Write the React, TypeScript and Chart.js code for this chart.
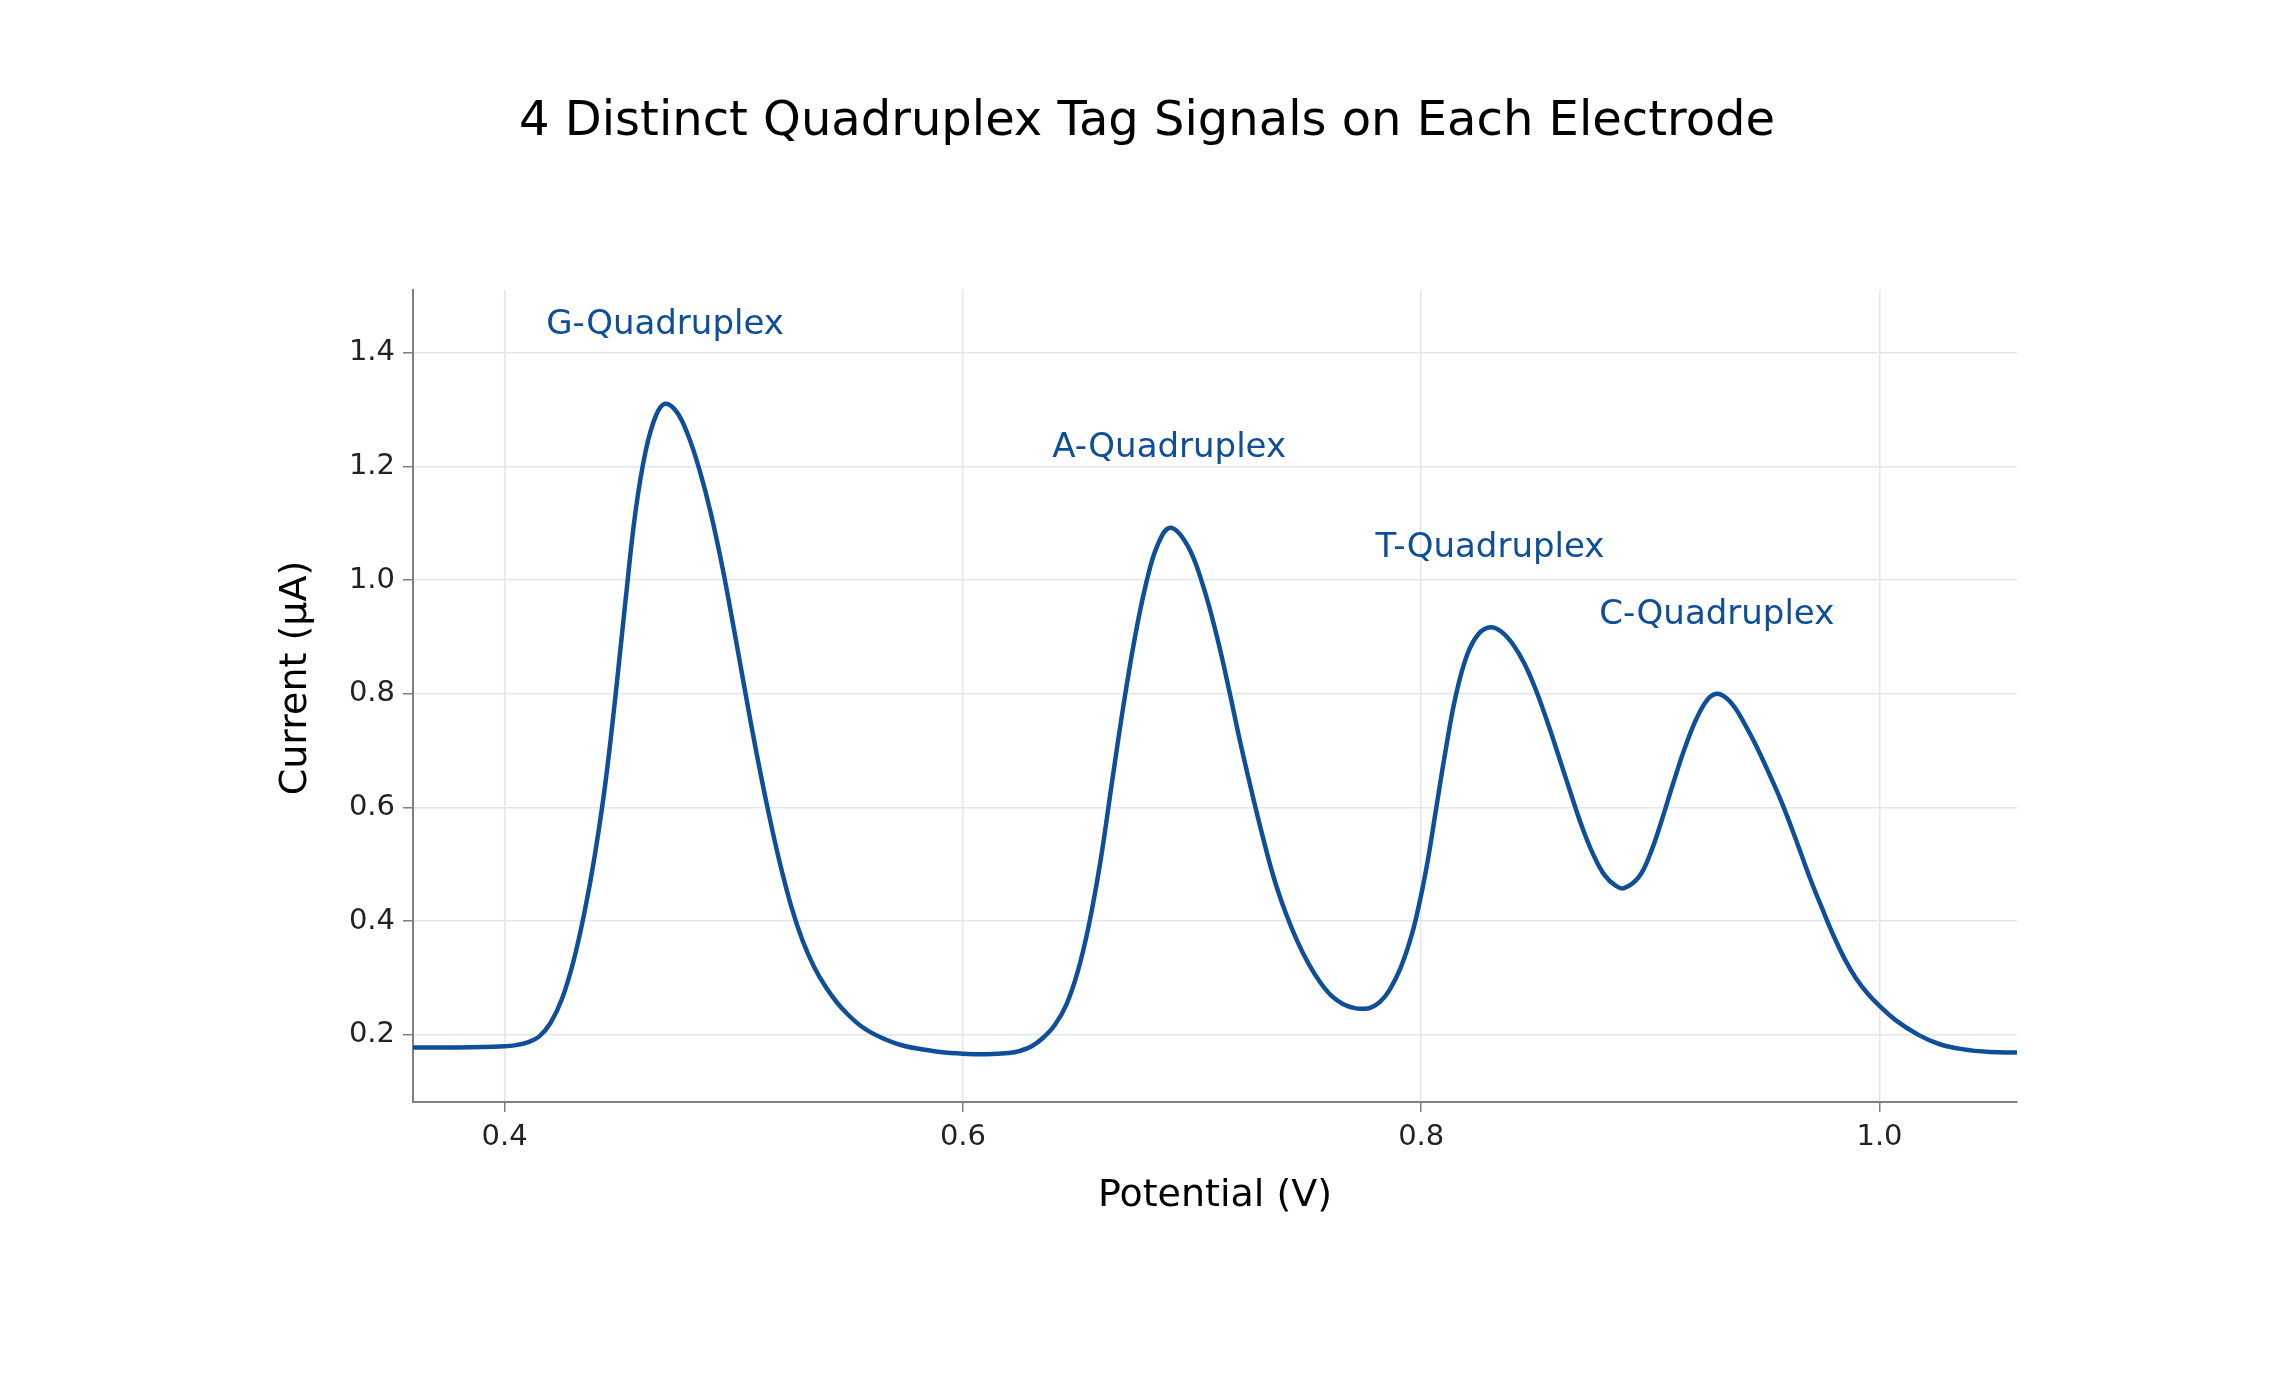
import { useEffect, useRef } from 'react'
import { Chart, registerables } from 'chart.js'
import type { Plugin } from 'chart.js'

Chart.register(...registerables)

// potentiel (V) et courant (µA)
const potential = [
    0.3600, 0.3800, 0.4000, 0.4050, 0.4100, 0.4150, 0.4200, 0.4250, 0.4300, 0.4348,
    0.4393, 0.4438, 0.4482, 0.4527, 0.4571, 0.4616, 0.4661, 0.4700, 0.4750, 0.4800,
    0.4850, 0.4900, 0.4950, 0.5000, 0.5050, 0.5100, 0.5150, 0.5200, 0.5250, 0.5300,
    0.5350, 0.5400, 0.5450, 0.5500, 0.5550, 0.5600, 0.5650, 0.5700, 0.5750, 0.5800,
    0.5900, 0.6000, 0.6100, 0.6200, 0.6250, 0.6300, 0.6350, 0.6400, 0.6450, 0.6500,
    0.6550, 0.6600, 0.6650, 0.6700, 0.6750, 0.6800, 0.6850, 0.6905, 0.6978, 0.7044,
    0.7110, 0.7165, 0.7210, 0.7260, 0.7310, 0.7360, 0.7410, 0.7460, 0.7510, 0.7560,
    0.7610, 0.7660, 0.7710, 0.7745, 0.7780, 0.7820, 0.7860, 0.7910, 0.7960, 0.8000,
    0.8030, 0.8062, 0.8105, 0.8150, 0.8200, 0.8250, 0.8302, 0.8350, 0.8400, 0.8450,
    0.8500, 0.8550, 0.8600, 0.8650, 0.8700, 0.8750, 0.8800, 0.8850, 0.8885, 0.8950,
    0.9000, 0.9050, 0.9100, 0.9150, 0.9200, 0.9250, 0.9290, 0.9330, 0.9370, 0.9410,
    0.9460, 0.9520, 0.9570, 0.9620, 0.9660, 0.9700, 0.9750, 0.9800, 0.9850, 0.9900,
    0.9950, 1.0000, 1.0070, 1.0170, 1.0260, 1.0360, 1.0480, 1.0600,
]
const current = [
    0.178, 0.178, 0.180, 0.182, 0.187, 0.197, 0.221, 0.263, 0.329, 0.415,
    0.515, 0.638, 0.790, 0.962, 1.120, 1.228, 1.290, 1.310, 1.296, 1.255,
    1.194, 1.117, 1.023, 0.915, 0.803, 0.694, 0.594, 0.504, 0.427, 0.366,
    0.320, 0.285, 0.257, 0.235, 0.217, 0.204, 0.194, 0.186, 0.180, 0.176,
    0.170, 0.167, 0.166, 0.168, 0.172, 0.180, 0.195, 0.217, 0.252, 0.310,
    0.394, 0.505, 0.643, 0.778, 0.898, 0.995, 1.062, 1.092, 1.062, 0.995,
    0.898, 0.800, 0.715, 0.628, 0.546, 0.472, 0.413, 0.364, 0.324, 0.292,
    0.268, 0.254, 0.247, 0.246, 0.248, 0.258, 0.278, 0.318, 0.378, 0.447,
    0.510, 0.590, 0.697, 0.795, 0.868, 0.905, 0.917, 0.909, 0.887, 0.853,
    0.807, 0.751, 0.690, 0.628, 0.568, 0.518, 0.481, 0.462, 0.458, 0.478,
    0.519, 0.578, 0.643, 0.704, 0.755, 0.790, 0.800, 0.793, 0.775, 0.748,
    0.710, 0.658, 0.612, 0.560, 0.516, 0.472, 0.422, 0.374, 0.332, 0.298,
    0.272, 0.251, 0.226, 0.200, 0.184, 0.175, 0.170, 0.169,
]

// les etiquettes au dessus des pics
const peakLabels = ['G-Quadruplex', 'A-Quadruplex', 'T-Quadruplex', 'C-Quadruplex']
const peakLabelX = [0.470, 0.690, 0.830, 0.929]
const peakLabelY = [1.433, 1.216, 1.041, 0.923]

const BLUE = '#0f4f99'
const FONT = '"DejaVu Sans", sans-serif'

// plugin pour le titre, le label y et les annotations
const textPlugin: Plugin<'line'> = {
    id: 'texts',
    afterDraw(chart) {
        const ctx = chart.ctx
        const xs = chart.scales.x
        const ys = chart.scales.y
        ctx.save()
        ctx.fillStyle = '#000'
        ctx.textAlign = 'center'
        ctx.textBaseline = 'alphabetic'
        ctx.font = `48px ${FONT}`
        ctx.fillText('4 Distinct Quadruplex Tag Signals on Each Electrode', 1147, 135)

        ctx.save()
        ctx.translate(296, 678)
        ctx.rotate(-Math.PI / 2)
        ctx.textBaseline = 'middle'
        ctx.font = `38px ${FONT}`
        ctx.fillText('Current (µA)', 0, 0)
        ctx.restore()

        ctx.fillStyle = BLUE
        ctx.font = `34px ${FONT}`
        peakLabels.forEach((l, i) => {
            ctx.fillText(l, xs.getPixelForValue(peakLabelX[i]), ys.getPixelForValue(peakLabelY[i]))
        })
        ctx.restore()
    },
}

function App() {
    const canvasRef = useRef<HTMLCanvasElement>(null)

    useEffect(() => {
        if (!canvasRef.current) return
        const chart = new Chart(canvasRef.current, {
            type: 'line',
            data: {
                datasets: [{
                    data: potential.map((p, i) => ({ x: p, y: current[i] })),
                    borderColor: BLUE,
                    borderWidth: 4.5,
                    pointRadius: 0,
                    tension: 0.4,
                    fill: false,
                }],
            },
            options: {
                animation: false,
                responsive: true,
                maintainAspectRatio: false,
                layout: { padding: { top: 290, right: 275, bottom: 170, left: 0 } },
                plugins: {
                    legend: { display: false },
                    tooltip: { enabled: false },
                    title: { display: false },
                },
                scales: {
                    x: {
                        type: 'linear',
                        min: 0.36,
                        max: 1.06,
                        afterFit: (s) => { s.height = 117 },
                        ticks: {
                            stepSize: 0.2,
                            includeBounds: false,
                            color: '#222',
                            font: { family: FONT, size: 29 },
                            padding: 8,
                            maxRotation: 0,
                            callback: (v) => Number(v).toFixed(1),
                        },
                        grid: { color: '#e2e6f0', lineWidth: 1.5, tickColor: '#808080', tickLength: 10 },
                        border: { color: '#808080', width: 2 },
                        title: {
                            display: true,
                            text: 'Potential (V)',
                            color: '#000',
                            font: { family: FONT, size: 38 },
                            padding: 0,
                        },
                    },
                    y: {
                        type: 'linear',
                        min: 0.082,
                        max: 1.51,
                        afterFit: (s) => { s.width = 413 },
                        ticks: {
                            stepSize: 0.2,
                            includeBounds: false,
                            color: '#222',
                            font: { family: FONT, size: 29 },
                            padding: 8,
                            callback: (v) => Number(v).toFixed(1),
                        },
                        grid: { color: '#e2e6f0', lineWidth: 1.5, tickColor: '#808080', tickLength: 10 },
                        border: { color: '#808080', width: 2 },
                    },
                },
            },
            plugins: [textPlugin],
        })
        return () => chart.destroy()
    }, [])

    return (
        <div style={{ position: 'fixed', left: 0, top: 0, width: 2292, height: 1389, background: '#fff' }}>
            <canvas ref={canvasRef}></canvas>
        </div>
    )
}

export default App
